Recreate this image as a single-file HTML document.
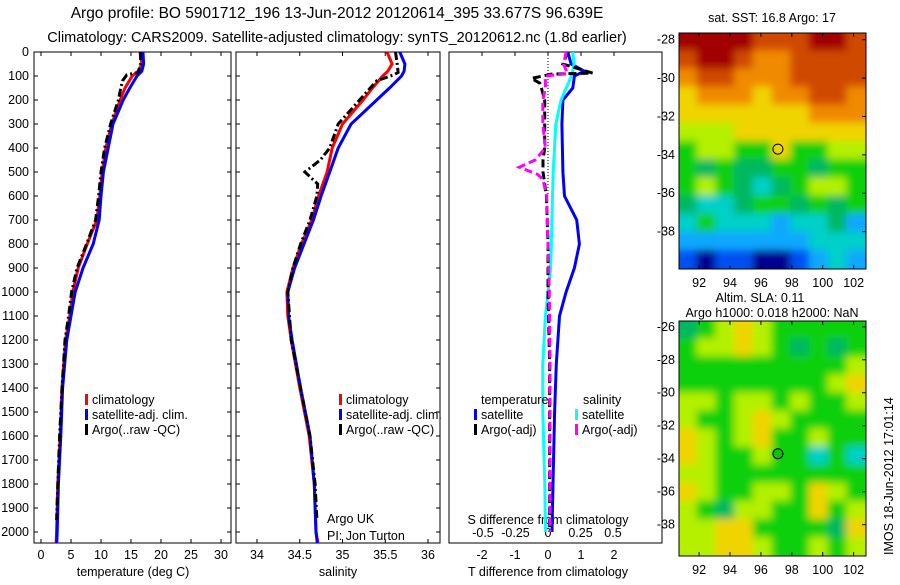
<!DOCTYPE html>
<html><head><meta charset="utf-8"><style>
html,body{margin:0;padding:0;background:#fff;}
svg text{font-family:"Liberation Sans",sans-serif;font-size:12.5px;fill:#000;}
</style></head><body>
<svg id="chart" width="900" height="580" viewBox="0 0 900 580" xmlns="http://www.w3.org/2000/svg">
<defs>
<filter id="bl" filterUnits="userSpaceOnUse" x="600" y="0" width="300" height="580"><feGaussianBlur stdDeviation="4"/></filter>
<clipPath id="c1"><rect x="34" y="52" width="197" height="491"/></clipPath>
<clipPath id="c2"><rect x="236" y="52" width="204" height="491"/></clipPath>
<clipPath id="c3"><rect x="449" y="52" width="213" height="491"/></clipPath>
<clipPath id="m1"><rect x="679" y="33" width="187" height="236"/></clipPath>
<clipPath id="m2"><rect x="679" y="321" width="187" height="235"/></clipPath>
</defs>
<text x="337" y="18" text-anchor="middle" style="font-size:15.5px">Argo profile: BO 5901712_196 13-Jun-2012 20120614_395 33.677S 96.639E</text>
<text x="337" y="42" text-anchor="middle" style="font-size:14.5px">Climatology: CARS2009. Satellite-adjusted climatology: synTS_20120612.nc (1.8d earlier)</text>
<g id="g1"></g>
<g id="g2"></g>
<g id="g3"></g>
<g id="maps"></g>
<text x="772" y="22" text-anchor="middle">sat. SST: 16.8 Argo: 17</text>
<text x="760" y="302" text-anchor="middle">Altim. SLA: 0.11</text>
<text x="772" y="317" text-anchor="middle">Argo h1000: 0.018 h2000: NaN</text>
<text x="0" y="0" transform="translate(893,555) rotate(-90)">IMOS 18-Jun-2012 17:01:14</text>
<text x="327" y="548" dy="-25">Argo UK</text>
<text x="327" y="548" dy="-8">PI: Jon Turton</text>
</svg>
<script>
// ---- data ----
const depthTicks=[0,100,200,300,400,500,600,700,800,900,1000,1100,1200,1300,1400,1500,1600,1700,1800,1900,2000];
const tempTicks=[0,5,10,15,20,25,30];
const salTicks=[34,34.5,35,35.5,36];
const tdTicks=[-2,-1,0,1,2];
const sdTicks=[-0.5,-0.25,0,0.25,0.5];
const sdTickLabels=["-0.5","-0.25","0","0.25","0.5"];
const climDepth=[0,50,80,100,150,200,300,400,500,600,700,800,900,1000,1100,1200,1400,1600,1800,2000,2060];
const climTemp=[16.5,16.8,16.2,15.2,14,13.2,11.8,10.8,10.2,9.8,9.3,7.7,6.2,5.3,4.8,4.1,3.5,3.2,2.8,2.6,2.5];
const satTemp=[17,17.1,16.8,16,14.8,13.7,12,11.2,10.4,10,9.7,8.7,7,5.7,5,4.3,3.6,3.3,2.9,2.7,2.6];
const argoDepth=[0,50,85,95,120,150,200,300,400,500,600,700,800,900,1000,1100,1200,1400,1600,1800,1950];
const argoTemp=[16.6,16.6,16.2,14.3,13.6,13.3,12.9,11.6,10.6,10,9.6,9.1,7.6,6,5.1,4.6,4,3.5,3.1,2.8,2.6];
const climSal=[35.52,35.58,35.53,35.47,35.35,35.24,35.0,34.88,34.82,34.72,34.64,34.52,34.42,34.35,34.36,34.4,34.5,34.61,34.67,34.69,34.72];
const satSal=[35.67,35.73,35.72,35.69,35.55,35.4,35.1,34.95,34.85,34.75,34.66,34.55,34.44,34.36,34.37,34.41,34.51,34.62,34.67,34.69,34.71];
const argoSalDepth=[0,50,85,95,120,200,300,400,450,500,550,600,700,800,900,1000,1200,1400,1600,1800,1950];
const argoSal=[35.62,35.64,35.65,35.6,35.4,35.2,34.95,34.85,34.74,34.56,34.71,34.7,34.62,34.51,34.42,34.36,34.4,34.51,34.62,34.68,34.7];
const dDepth=[0,50,80,100,150,200,300,500,600,700,800,900,1000,1100,1300,1500,1800,2000];
const satTdiff=[0.6,0.7,1.1,0.8,0.75,0.45,0.42,0.45,0.5,0.87,0.95,0.8,0.55,0.35,0.25,0.2,0.15,0.12];
const satSdiff=[0.19,0.2,0.19,0.18,0.14,0.1,0.06,0.04,0.035,0.03,0.025,0.02,0,-0.02,-0.04,-0.04,-0.025,-0.02];
const adDepth=[0,50,88,92,110,130,150,200,300,400,450,500,600,800,1000,1300,1600,2000];
const argoTdiff=[0.6,0.45,1.35,0.1,-0.5,-0.25,-0.2,-0.1,-0.1,-0.1,-0.15,-0.15,-0.05,0,0,0.05,0.05,0.05];
const asDepth=[0,50,90,100,150,200,300,400,450,480,510,530,600,800,1000,1300,1600,2000];
const argoSdiff=[0.14,0.12,0.15,-0.02,-0.02,-0.04,-0.04,-0.02,-0.1,-0.22,-0.08,-0.04,-0.01,0,0.01,0.015,0.015,0.015];
// maps (colour codes per cell)
const sstGrid=["DDDDRRRDDR","RDDROORRRR","ORROOORRRR","YOOOYOORRO","YYYYYYYOOO","LLLYYYYYYY","GLLGGYGGLL","GgGggGGgGG","GLGgCgGLLG","gCCgGGgGgG","CGCCCBCCgB","BBBBBBBCCC","NKNNKKNBCB"];
const slaGrid=["gGLYLGGGGG","GLLYLGgGgG","GGGGGGGGGL","GGGGGGGGLY","LLGLLGLGGL","LGGLYLGGGG","YLGLYGGLGG","YLGGLGGCGC","LLGGGGGGGG","YLGGLLGYLG","LGgLLGGYGL","LLYYGGGGgY","LLYYLGGLGL"];
const lonTicks=[92,94,96,98,100,102];
const lat1Ticks=[-28,-30,-32,-34,-36,-38];
const lat2Ticks=[-26,-28,-30,-32,-34,-36,-38];
const argoLon=97.1, argoLat=-33.7;

const NS="http://www.w3.org/2000/svg";
function mk(t,a,p){const e=document.createElementNS(NS,t);for(const k in a)e.setAttribute(k,a[k]);(p||document.getElementById('chart')).appendChild(e);return e;}
const Y=d=>52+d*0.24;
const xT=t=>41+6*t, xS=s=>257+85.5*(s-34), xTD=v=>548+33*v, xSD=v=>548+130*v;
function line(g,xs,ds,fx,col,w,dash,name){
  const pts=xs.map((v,i)=>fx(v).toFixed(1)+','+Y(ds[i]).toFixed(1)).join(' ');
  const e=mk('polyline',{points:pts,fill:'none',stroke:col,'stroke-width':w},g);
  if(dash)e.setAttribute('stroke-dasharray',dash);
  
  
}
function frame(g,x0,x1,name){
  const r=mk('rect',{x:x0,y:52,width:x1-x0,height:491,fill:'none',stroke:'#000','stroke-width':1},g);
  
  
  depthTicks.forEach(d=>{mk('line',{x1:x0,x2:x0+4,y1:Y(d),y2:Y(d),stroke:'#000'},g);mk('line',{x1:x1,x2:x1-4,y1:Y(d),y2:Y(d),stroke:'#000'},g);});
}
// Panel 1
const g1=document.getElementById('g1');
frame(g1,34,231,'temperature-axes');
depthTicks.forEach(d=>{const t=mk('text',{x:29,y:Y(d)+4,'text-anchor':'end'},g1);t.textContent=d;

});
tempTicks.forEach(v=>{mk('line',{x1:xT(v),x2:xT(v),y1:543,y2:539,stroke:'#000'},g1);mk('line',{x1:xT(v),x2:xT(v),y1:52,y2:56,stroke:'#000'},g1);
const t=mk('text',{x:xT(v),y:559,'text-anchor':'middle'},g1);t.textContent=v;

});
const xl1=mk('text',{x:133,y:576,'text-anchor':'middle'},g1);xl1.textContent='temperature (deg C)';


const p1=mk('g',{'clip-path':'url(#c1)'},g1);
line(p1,climTemp,climDepth,xT,'#f00',3,null,'clim-temp-line');
line(p1,satTemp,climDepth,xT,'#00f',3,null,'sat-temp-line');
line(p1,argoTemp,argoDepth,xT,'#000',3,'8,3,2,3','argo-temp-line');
// Panel 2
const g2=document.getElementById('g2');
frame(g2,236,440,'salinity-axes');
salTicks.forEach(v=>{mk('line',{x1:xS(v),x2:xS(v),y1:543,y2:539,stroke:'#000'},g2);mk('line',{x1:xS(v),x2:xS(v),y1:52,y2:56,stroke:'#000'},g2);
const t=mk('text',{x:xS(v),y:559,'text-anchor':'middle'},g2);t.textContent=v;

});
const xl2=mk('text',{x:338,y:576,'text-anchor':'middle'},g2);xl2.textContent='salinity';


const p2=mk('g',{'clip-path':'url(#c2)'},g2);
line(p2,climSal,climDepth,xS,'#f00',3,null,'clim-sal-line');
line(p2,satSal,climDepth,xS,'#00f',3,null,'sat-sal-line');
line(p2,argoSal,argoSalDepth,xS,'#000',3,'8,3,2,3','argo-sal-line');
// legends
function leg(g,x,y,col,label,name){mk('rect',{x:x,y:y-10,width:3,height:11,fill:col},g);const t=mk('text',{x:x+7,y:y},g);t.textContent=label;

}
leg(g1,85,404,'#f00','climatology','legend-climatology');
leg(g1,85,419,'#00f','satellite-adj. clim.','legend-satellite');
leg(g1,85,434,'#000','Argo(..raw -QC)','legend-argo');
leg(g2,339,404,'#f00','climatology','legend-climatology-sal');
leg(g2,339,419,'#00f','satellite-adj. clim.','legend-satellite-sal');
leg(g2,339,434,'#000','Argo(..raw -QC)','legend-argo-sal');
// Panel 3
const g3=document.getElementById('g3');
const r3=mk('rect',{x:449,y:52,width:213,height:491,fill:'none',stroke:'#000'},g3);


tdTicks.forEach(v=>{mk('line',{x1:xTD(v),x2:xTD(v),y1:52,y2:56,stroke:'#000'},g3);
const t=mk('text',{x:xTD(v),y:559,'text-anchor':'middle'},g3);t.textContent=v;

});
sdTicks.forEach((v,i)=>{const t=mk('text',{x:xSD(v),y:537,'text-anchor':'middle'},g3);t.textContent=sdTickLabels[i];

});
const st=mk('text',{x:548,y:524,'text-anchor':'middle'},g3);st.textContent='S difference from climatology';


const xl3=mk('text',{x:548,y:576,'text-anchor':'middle'},g3);xl3.textContent='T difference from climatology';


mk('line',{x1:548,x2:548,y1:52,y2:195,stroke:'#000','stroke-dasharray':'1,2'},g3);
const p3=mk('g',{'clip-path':'url(#c3)'},g3);
line(p3,satTdiff,dDepth,xTD,'#00f',3,null,'sat-tdiff-line');
line(p3,satSdiff,dDepth,xSD,'#0ff',3,null,'sat-sdiff-line');
line(p3,argoTdiff,adDepth,xTD,'#000',3,'8,4','argo-tdiff-line');
line(p3,argoSdiff,asDepth,xSD,'#f0f',3,'8,4','argo-sdiff-line');
const lt=mk('text',{x:481,y:404},g3);lt.textContent='temperature';


const ls=mk('text',{x:583,y:404},g3);ls.textContent='salinity';


leg(g3,474,419,'#00f','satellite','legend-t-satellite');
leg(g3,474,434,'#000','Argo(-adj)','legend-t-argo');
leg(g3,575,419,'#0ff','satellite','legend-s-satellite');
leg(g3,575,434,'#f0f','Argo(-adj)','legend-s-argo');
// Maps
const cmap={D:'#a00000',R:'#d04a00',O:'#f08a00',Y:'#f0d400',L:'#b4f000',G:'#10d010',g:'#00b860',C:'#00d0c8',B:'#10a8ff',N:'#0050f0',K:'#000090'};
const mapsG=document.getElementById('maps');
function drawMap(grid,x0,y0,w,h,clip,name,lat0,lat1,ticks,circleFill){
  const g=mk('g',{'clip-path':'url(#'+clip+')'},mapsG);
  
  
  const gi=mk('g',{filter:'url(#bl)'},g);
  const rows=grid.length,cols=grid[0].length,cw=w/cols,ch=h/rows;
  grid.forEach((row,r)=>{for(let c=0;c<cols;c++){
    let xx=x0+c*cw-1, yy=y0+r*ch-1, ww=cw+2, hh=ch+2;
    if(c===0){xx-=12;ww+=12;} if(c===cols-1){ww+=12;}
    if(r===0){yy-=12;hh+=12;} if(r===rows-1){hh+=12;}
    mk('rect',{x:xx,y:yy,width:ww,height:hh,fill:cmap[row[c]]},gi);}});
  mk('rect',{x:x0,y:y0,width:w,height:h,fill:'none',stroke:'#000'},mapsG);
  const lx=v=>x0+(v-90.7)/(102.8-90.7)*w;
  const ly=v=>y0+(lat0-v)/(lat0-lat1)*h;
  lonTicks.forEach(v=>{mk('line',{x1:lx(v),x2:lx(v),y1:y0,y2:y0+4,stroke:'#000'},mapsG);mk('line',{x1:lx(v),x2:lx(v),y1:y0+h,y2:y0+h-4,stroke:'#000'},mapsG);
    const t=mk('text',{x:lx(v),y:y0+h+18,'text-anchor':'middle'},mapsG);t.textContent=v;
    
    });
  ticks.forEach(v=>{mk('line',{x1:x0+w,x2:x0+w-4,y1:ly(v),y2:ly(v),stroke:'#000'},mapsG);
    const t=mk('text',{x:x0-4,y:ly(v)+4,'text-anchor':'end'},mapsG);t.textContent=v;
    
    });
  const c=mk('circle',{cx:lx(argoLon),cy:ly(argoLat),r:5,fill:circleFill,stroke:'#000'},mapsG);
  
  
}
drawMap(sstGrid,679,33,187,236,'m1','sst-map',-27.65,-39.95,lat1Ticks,'none');
drawMap(slaGrid,679,321,187,235,'m2','sla-map',-25.65,-39.9,lat2Ticks,'#10c010');
</script>
</body></html>
